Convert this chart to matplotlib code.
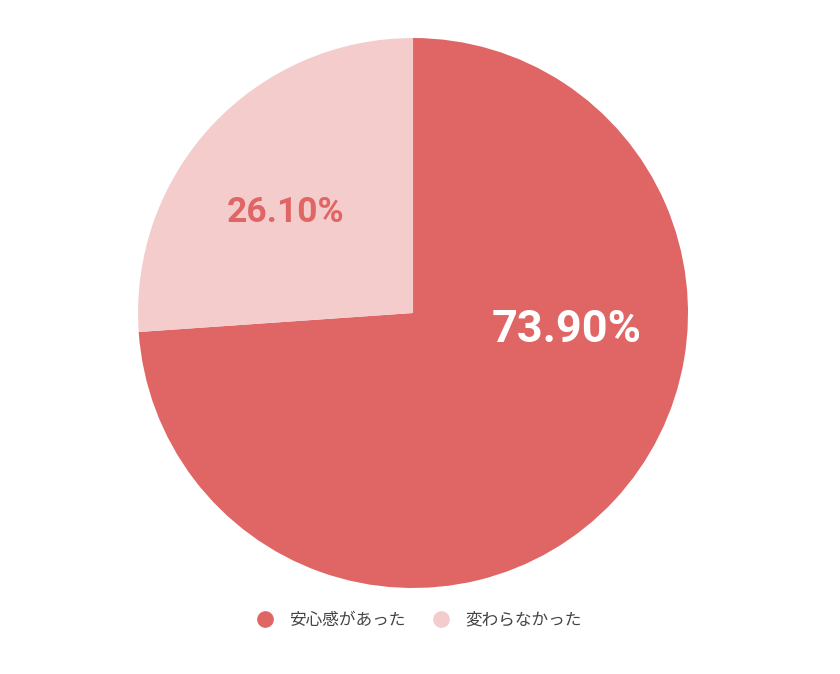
import matplotlib.pyplot as plt
from matplotlib.lines import Line2D

labels = ['安心感があった', '変わらなかった']
values = [73.9, 26.1]
colors = ['#E06666', '#F4CCCC']
pct_colors = ['white', '#E06666']
pct_sizes = [32.5, 25.5]
# label spots inside the pie (radius = 1), as placed in the reference
pct_pos = [(0.56, -0.062), (-0.465, 0.365)]

plt.rcParams['font.family'] = ['Noto Sans CJK JP', 'DejaVu Sans']

fig = plt.figure(figsize=(8.4, 6.74), dpi=100)
ax = fig.add_axes([0.1643, 0.1276, 0.6548, 0.816])
wedges, _ = ax.pie(values, colors=colors, startangle=90, counterclock=False,
                   radius=1, wedgeprops=dict(linewidth=0))
ax.set_xlim(-1, 1)
ax.set_ylim(-1, 1)
ax.set_aspect('equal')

for v, c, s, (x, y) in zip(values, pct_colors, pct_sizes, pct_pos):
    ax.text(x, y, f'{v:.2f}%', color=c, fontsize=s, fontweight='bold',
            family='Roboto', ha='center', va='center')

handles = [Line2D([0], [0], marker='o', linestyle='', markersize=11,
                  markerfacecolor=c, markeredgecolor=c) for c in colors]
fig.legend(handles, labels, loc='center', bbox_to_anchor=(0.494, 0.08),
           ncol=2, frameon=False, fontsize=12, handletextpad=0.45,
           columnspacing=1.1, labelcolor='#444444')

fig.savefig('out.png', dpi=100)
